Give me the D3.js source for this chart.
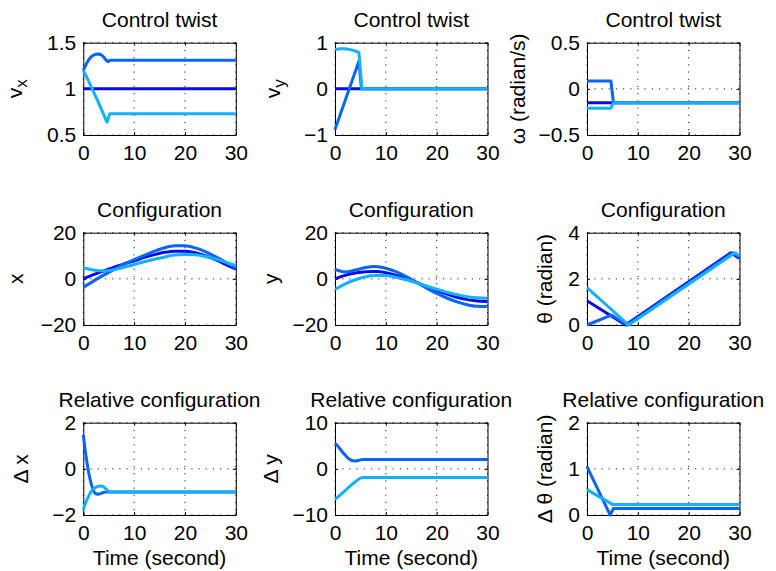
<!DOCTYPE html>
<html>
<head>
<meta charset="utf-8">
<script src="https://cdn.jsdelivr.net/npm/d3@7"></script>
<style>
  body { margin: 0; background: #fff; }
  text { font-family: "Liberation Sans", Arial, Helvetica, sans-serif; font-size: 21px; fill: #000; }
  .tick line { stroke: #000; }
  .domain { stroke: #000; }
  .grid { stroke: #222; stroke-width: 1; stroke-dasharray: 1.2 6; }
</style>
</head>
<body>
<svg id="canvas"></svg>
<script>
let svg = d3.select("#canvas").attr("width", 776).attr("height", 571)

// colours of the three robots
let colors = ["#0a0ae8", "#0a64f5", "#12b0ff"]

let xTicks = [0, 10, 20, 30]

// ---- control twist (piecewise, [t, value]) ----
let vxDark = [[0, 1.0], [30, 1.0]]
let vxMid = [[0, 1.2], [0.5, 1.26], [1, 1.31], [1.5, 1.345], [2, 1.365], [2.5, 1.375], [3, 1.378], [3.5, 1.37], [4, 1.345], [4.5, 1.31], [4.85, 1.294], [5.3, 1.31], [30, 1.31]]
let vxLight = [[0, 1.2], [1, 1.09], [2, 0.97], [3, 0.85], [4, 0.72], [4.65, 0.64], [5.2, 0.73], [30, 0.73]]

let vyDark = [[0, 0], [30, 0]]
let vyMid = [[0, -0.88], [4.7, 0.6], [5.2, 0], [30, 0]]
let vyLight = [[0, 0.85], [1, 0.87], [2, 0.87], [3, 0.85], [4, 0.82], [4.7, 0.79], [5.3, 0], [30, 0]]

let wDark = [[0, -0.15], [30, -0.15]]
let wMid = [[0, 0.085], [4.7, 0.085], [5.2, -0.15], [30, -0.15]]
let wLight = [[0, -0.21], [4.7, -0.21], [5.2, -0.15], [30, -0.15]]

// ---- configuration (smooth, sampled on tGrid) ----
let tGrid = [0, 2, 4, 6, 8, 10, 12, 14, 16, 18, 20, 22, 24, 26, 28, 30]
let xDark = [0, 1.8, 3.4, 5.0, 6.5, 7.8, 9.3, 10.5, 11.5, 12.0, 12.0, 11.3, 10.0, 8.3, 6.3, 4.2]
let xMid = [-3.7, -1.0, 1.6, 4.0, 6.3, 8.3, 10.2, 12.0, 13.5, 14.3, 14.3, 13.4, 11.8, 9.6, 7.2, 4.6]
let xLight = [4.8, 3.8, 3.4, 4.0, 5.0, 6.2, 7.4, 8.5, 9.5, 10.3, 10.6, 10.4, 9.7, 8.6, 7.2, 5.7]

let yDark = [0, 1.5, 2.5, 3.1, 3.2, 2.7, 1.6, 0.2, -1.5, -3.3, -5.0, -6.6, -8.0, -9.0, -9.6, -9.8]
let yMid = [4.1, 3.0, 3.8, 4.9, 5.3, 4.6, 3.1, 1.0, -1.5, -4.0, -6.3, -8.3, -10.0, -11.2, -11.9, -12.0]
let yLight = [-4.6, -2.2, -0.4, 0.9, 1.5, 1.4, 0.7, -0.4, -1.7, -3.1, -4.5, -5.8, -6.9, -7.7, -8.2, -8.4]

let thDark = [[0, 1.05], [7.6, 0], [28.3, 3.13], [30, 2.88]]
let thMid = [[0, 0], [4.8, 0.43], [7.9, 0], [28.7, 3.13], [30, 2.93]]
let thLight = [[0, 1.62], [8.2, 0], [29.1, 3.13], [30, 3.0]]

// ---- relative configuration ----
let dxMid = [[0, 1.47], [0.5, 0.6], [1, -0.1], [1.5, -0.6], [2, -0.95], [2.5, -1.08], [3, -1.1], [3.5, -1.06], [4, -1.02], [4.5, -1.0], [5, -1.0], [30, -1.0]]
let dxLight = [[0, -1.78], [0.5, -1.45], [1, -1.2], [1.5, -1.0], [2, -0.87], [2.5, -0.79], [3, -0.75], [3.5, -0.74], [4, -0.78], [4.5, -0.88], [5, -0.98], [5.5, -1.0], [30, -1.0]]

let dyMid = [[0, 5.5], [0.5, 5.0], [1, 4.3], [1.5, 3.6], [2, 3.0], [2.5, 2.4], [3, 2.0], [3.5, 1.75], [4, 1.7], [4.5, 1.8], [5, 1.95], [5.5, 2.0], [30, 2.0]]
let dyLight = [[0, -6.6], [1, -5.7], [2, -4.7], [3, -3.7], [4, -2.8], [5, -2.0], [5.5, -1.9], [30, -1.9]]

let dthMid = [[0, 1.05], [4.55, 0], [5.2, 0.14], [30, 0.14]]
let dthLight = [[0, 0.55], [5, 0.23], [30, 0.23]]

let zipT = vals => vals.map((v, i) => [tGrid[i], v])

let panels = [
  { title: "Control twist", label: ["v", "x"], yDomain: [0.5, 1.5], yTicks: [0.5, 1, 1.5], lx: 61,
    series: [vxDark, vxMid, vxLight], curve: d3.curveLinear },
  { title: "Control twist", label: ["v", "y"], yDomain: [-1, 1], yTicks: [-1, 0, 1], lx: 55,
    series: [vyDark, vyMid, vyLight], curve: d3.curveLinear },
  { title: "Control twist", label: ["ω (radian/s)"], yDomain: [-0.5, 0.5], yTicks: [-0.5, 0, 0.5], lx: 62,
    series: [wDark, wMid, wLight], curve: d3.curveLinear },
  { title: "Configuration", label: ["x"], yDomain: [-20, 20], yTicks: [-20, 0, 20], lx: 60,
    series: [zipT(xDark), zipT(xMid), zipT(xLight)], curve: d3.curveMonotoneX },
  { title: "Configuration", label: ["y"], yDomain: [-20, 20], yTicks: [-20, 0, 20], lx: 57,
    series: [zipT(yDark), zipT(yMid), zipT(yLight)], curve: d3.curveMonotoneX },
  { title: "Configuration", label: ["θ (radian)"], yDomain: [0, 4], yTicks: [0, 2, 4], lx: 35,
    series: [thDark, thMid, thLight], curve: d3.curveLinear },
  { title: "Relative configuration", label: ["Δ x"], yDomain: [-2, 2], yTicks: [-2, 0, 2], lx: 55,
    series: [null, dxMid, dxLight], curve: d3.curveMonotoneX },
  { title: "Relative configuration", label: ["Δ y"], yDomain: [-10, 10], yTicks: [-10, 0, 10], lx: 57,
    series: [null, dyMid, dyLight], curve: d3.curveMonotoneX },
  { title: "Relative configuration", label: ["Δ θ (radian)"], yDomain: [0, 2], yTicks: [0, 1, 2], lx: 35,
    series: [null, dthMid, dthLight], curve: d3.curveLinear }
]

let colLeft = [83.3, 335, 587]
let rowTop = [42.7, 232.7, 422.7]
let pw = 152.5, ph = 92.3
let fmt = d3.format("")

panels.forEach((p, i) => {
  let col = i % 3, row = Math.floor(i / 3)
  let g = svg.append("g").attr("transform", `translate(${colLeft[col]},${rowTop[row]})`)
  let x = d3.scaleLinear().domain([0, 30]).range([0, pw])
  let y = d3.scaleLinear().domain(p.yDomain).range([ph, 0])

  // grid
  g.selectAll(".gx").data(xTicks).enter().append("line").attr("class", "grid")
    .attr("x1", d => x(d)).attr("x2", d => x(d)).attr("y1", 0).attr("y2", ph)
  g.selectAll(".gy").data(p.yTicks).enter().append("line").attr("class", "grid")
    .attr("x1", 0).attr("x2", pw).attr("y1", d => y(d)).attr("y2", d => y(d))

  // axes with inward ticks
  g.append("g").attr("transform", `translate(0,${ph})`)
    .call(d3.axisBottom(x).tickValues(xTicks).tickFormat(fmt).tickSizeInner(-3).tickSizeOuter(0).tickPadding(10))
  g.append("g")
    .call(d3.axisTop(x).tickValues(xTicks).tickFormat("").tickSizeInner(-3).tickSizeOuter(0))
  g.append("g")
    .call(d3.axisLeft(y).tickValues(p.yTicks).tickFormat(fmt).tickSizeInner(-3).tickSizeOuter(0).tickPadding(7))
  g.append("g").attr("transform", `translate(${pw},0)`)
    .call(d3.axisRight(y).tickValues(p.yTicks).tickFormat("").tickSizeInner(-3).tickSizeOuter(0))
  g.selectAll(".tick text").attr("font-size", null).attr("font-family", null)
  g.selectAll(".domain").attr("stroke-width", 1)

  // lines
  let line = d3.line().x(d => x(d[0])).y(d => y(d[1])).curve(p.curve)
  p.series.forEach((s, k) => {
    if (!s) return
    g.append("path").attr("d", line(s)).attr("fill", "none")
      .attr("stroke", colors[k]).attr("stroke-width", 3)
      .attr("stroke-linejoin", "round")
  })

  // title
  g.append("text").attr("x", pw / 2).attr("y", -16).attr("text-anchor", "middle").text(p.title)

  // y label
  let lab = g.append("text").attr("transform", `translate(${-p.lx},${ph / 2}) rotate(-90)`)
    .attr("text-anchor", "middle")
  lab.append("tspan").text(p.label[0])
  if (p.label[1]) lab.append("tspan").attr("dy", 5).attr("font-size", 17).text(p.label[1])

  // x label on bottom row
  if (row === 2) {
    g.append("text").attr("x", pw / 2).attr("y", ph + 50).attr("text-anchor", "middle").text("Time (second)")
  }
})
</script>
</body>
</html>
